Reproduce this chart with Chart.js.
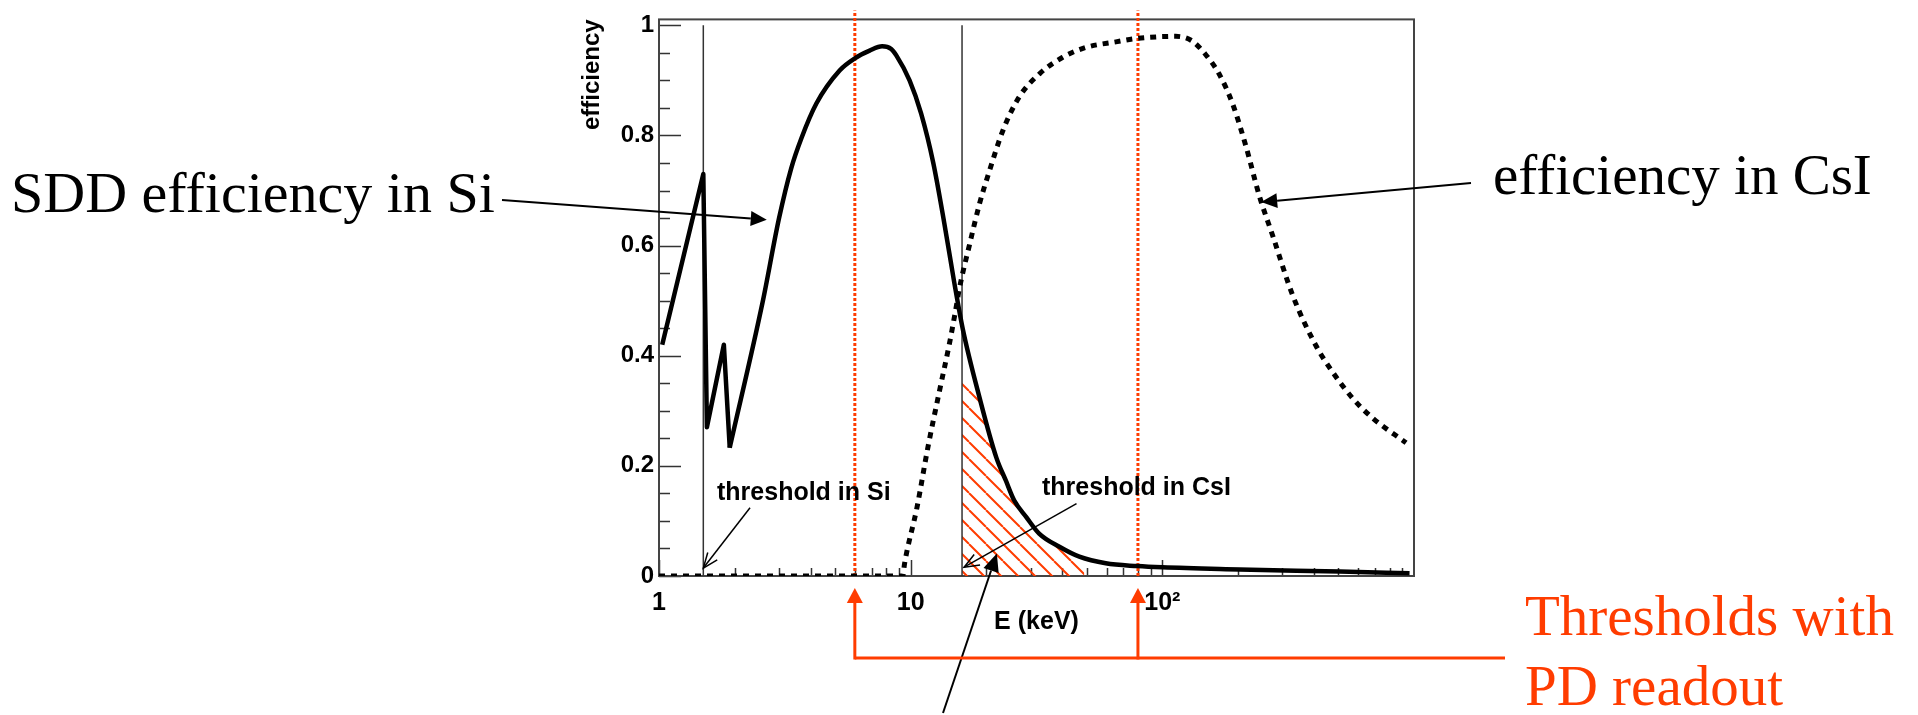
<!DOCTYPE html>
<html>
<head>
<meta charset="utf-8">
<script src="https://cdn.jsdelivr.net/npm/chart.js@4.4.1/dist/chart.umd.min.js"></script>
<style>
  html, body { margin: 0; padding: 0; background: #fff; }
  canvas { display: block; }
</style>
</head>
<body>
<canvas id="chart" width="1918" height="715"></canvas>
<script>
// energies in keV, efficiencies 0..1
const siEnergy = [1.03, 1.5, 1.55, 1.81, 1.91, 2.58, 3.0, 3.35, 3.68, 4.22, 5.22, 6.0, 6.87, 7.7, 8.37, 8.78,
  9.9, 11.0, 12.3, 13.6, 14.9, 16.1, 18.8, 21.9, 23.9, 25.8, 28.8, 32.4, 39, 46.8, 59.6, 79.4, 100, 203, 507, 960];
const siEff = [0.42, 0.73, 0.27, 0.42, 0.233, 0.497, 0.65, 0.74, 0.795, 0.858, 0.918, 0.94, 0.954, 0.962, 0.957, 0.945,
  0.90, 0.84, 0.75, 0.641, 0.533, 0.449, 0.323, 0.215, 0.173, 0.137, 0.107, 0.077, 0.053, 0.035, 0.023, 0.018, 0.0157, 0.012, 0.008, 0.005];
const siEdgeEnd = 4; // points up to here are the sharp absorption-edge part

const csiEnergy = [1, 9.3, 9.46, 10.6, 11.7, 13.0, 14.3, 15.2, 15.6, 17.1, 18.8, 20.6, 23.3, 27.0, 32.5, 40.2, 49.8,
  65.4, 78.5, 113, 131, 148, 168, 190, 215, 243, 275, 330, 407, 474, 570, 684, 930];
const csiEff = [0, 0, 0.023, 0.125, 0.233, 0.335, 0.425, 0.491, 0.521, 0.6, 0.677, 0.737, 0.81, 0.87, 0.912, 0.942, 0.96,
  0.97, 0.976, 0.98, 0.972, 0.948, 0.912, 0.858, 0.78, 0.69, 0.617, 0.509, 0.419, 0.371, 0.323, 0.287, 0.242];

// hatched area under the Si curve above the CsI threshold
const hatchEnergy = [16, 18.2, 18.8, 21.9, 25.8, 31.6, 42.8, 49];
const hatchEff = [0.36, 0.35, 0.323, 0.215, 0.137, 0.077, 0.038, 0.03];

const detThresholds = [1.5, 16];   // threshold in Si, threshold in CsI
const pdThresholds = [6, 80];      // thresholds with PD readout

const xTickValues = [1, 10, 100];
const xTickLabels = ['1', '10', '10²'];
const yTickValues = [0, 0.2, 0.4, 0.6, 0.8, 1];
const yTickLabels = ['0', '0.2', '0.4', '0.6', '0.8', '1'];

const RED = '#ff3c00';
const INK = '#333';

function pts(xs, ys) {
  return xs.map((x, i) => ({ x, y: ys[i] }));
}

function hatchPattern() {
  const s = 17;
  const c = document.createElement('canvas');
  c.width = s; c.height = s;
  const g = c.getContext('2d');
  g.strokeStyle = RED;
  g.lineWidth = 2;
  g.beginPath();
  for (const k of [-s, 0, s]) { g.moveTo(k, 0); g.lineTo(k + s, s); }
  g.stroke();
  return g.createPattern(c, 'repeat');
}

function arrow(ctx, x0, y0, x1, y1, o) {
  const ang = Math.atan2(y1 - y0, x1 - x0);
  const bx = x1 - o.len * Math.cos(ang), by = y1 - o.len * Math.sin(ang);
  const sx = o.half * Math.sin(ang), sy = o.half * Math.cos(ang);
  ctx.save();
  ctx.strokeStyle = o.color; ctx.fillStyle = o.color; ctx.lineWidth = o.width;
  ctx.beginPath();
  ctx.moveTo(x0, y0);
  if (o.filled) ctx.lineTo(bx, by); else ctx.lineTo(x1, y1);
  ctx.stroke();
  ctx.beginPath();
  ctx.moveTo(bx + sx, by - sy);
  ctx.lineTo(x1, y1);
  ctx.lineTo(bx - sx, by + sy);
  if (o.filled) { ctx.closePath(); ctx.fill(); } else ctx.stroke();
  ctx.restore();
}

// ROOT-style frame with ticks pointing inwards
const framePlugin = {
  id: 'frame',
  beforeDatasetsDraw(chart) {
    const { ctx, chartArea: a, scales: { x, y } } = chart;
    ctx.save();
    ctx.strokeStyle = INK;
    ctx.lineWidth = 1.5;
    ctx.beginPath();
    for (let i = 0; i <= 20; i++) {
      const py = Math.round(y.getPixelForValue(i * 0.05)) + 0.5;
      const len = i % 4 === 0 ? 22 : 11;
      ctx.moveTo(a.left, py); ctx.lineTo(a.left + len, py);
    }
    for (let d = 1; d < 1000; d *= 10) {
      for (let m = 1; m <= 9; m++) {
        const v = m * d;
        if (v >= 1000) continue;
        const px = Math.round(x.getPixelForValue(v)) + 0.5;
        const len = m === 1 ? 16 : 8;
        ctx.moveTo(px, a.bottom); ctx.lineTo(px, a.bottom - len);
      }
    }
    ctx.stroke();
    ctx.strokeStyle = '#444';
    ctx.lineWidth = 2;
    ctx.strokeRect(a.left, a.top, a.right - a.left, a.bottom - a.top);
    ctx.restore();
  }
};

const notesPlugin = {
  id: 'notes',
  afterDraw(chart) {
    const { ctx, scales: { x, y } } = chart;
    const px = v => x.getPixelForValue(v);
    const py = v => y.getPixelForValue(v);
    ctx.save();
    ctx.textBaseline = 'alphabetic';
    ctx.textAlign = 'left';

    ctx.fillStyle = '#000';
    ctx.font = '58px "Liberation Serif", "Times New Roman", serif';
    ctx.fillText('SDD efficiency in Si', 11, 212);
    ctx.font = '57px "Liberation Serif", "Times New Roman", serif';
    ctx.fillText('efficiency in CsI', 1493, 194);

    ctx.font = 'bold 25px "Liberation Sans", Arial, sans-serif';
    ctx.fillText('threshold in Si', 717, 500);
    ctx.fillText('threshold in CsI', 1042, 495);

    ctx.fillStyle = RED;
    ctx.font = '57px "Liberation Serif", "Times New Roman", serif';
    ctx.fillText('Thresholds with', 1525, 635);
    ctx.fillText('PD readout', 1525, 705);

    const solid = { color: '#000', width: 2, len: 16, half: 7.5, filled: true };
    arrow(ctx, 502, 200, px(2.68), py(0.647), solid);
    arrow(ctx, 1471, 183, px(247), py(0.679), solid);
    arrow(ctx, 943, 713, px(22.0), py(0.041), { color: '#000', width: 2, len: 18, half: 8, filled: true });

    const open = { color: '#000', width: 1.5, len: 15, half: 6, filled: false };
    arrow(ctx, px(2.3), py(0.124), px(detThresholds[0]), py(0.0144), open);
    arrow(ctx, px(45.6), py(0.1315), px(16.3), py(0.016), open);

    // PD readout bracket
    const yb = 658;
    ctx.strokeStyle = RED;
    ctx.lineWidth = 3;
    ctx.beginPath();
    ctx.moveTo(px(pdThresholds[0]), yb);
    ctx.lineTo(1505, yb);
    ctx.stroke();
    const red = { color: RED, width: 3, len: 15, half: 8, filled: true };
    pdThresholds.forEach(t => arrow(ctx, px(t), yb + 1.5, px(t), 588, red));
    ctx.restore();
  }
};

const lineSets = [
  ...detThresholds.map(t => ({
    data: [{ x: t, y: 0 }, { x: t, y: 1 }],
    borderColor: INK, borderWidth: 1.5
  })),
  ...pdThresholds.map(t => ({
    data: [{ x: t, y: 0 }, { x: t, y: 1.027 }],
    borderColor: RED, borderWidth: 3, borderDash: [3, 2], clip: false
  }))
];

new Chart(document.getElementById('chart'), {
  type: 'line',
  data: {
    datasets: [
      {
        label: 'SDD efficiency in Si (edge)',
        data: pts(siEnergy.slice(0, siEdgeEnd + 1), siEff.slice(0, siEdgeEnd + 1)),
        borderColor: '#000', borderWidth: 4.5, tension: 0,
        borderJoinStyle: 'round'
      },
      {
        label: 'SDD efficiency in Si',
        data: pts(siEnergy.slice(siEdgeEnd), siEff.slice(siEdgeEnd)),
        borderColor: '#000', borderWidth: 4.5,
        cubicInterpolationMode: 'monotone'
      },
      {
        label: 'efficiency in CsI',
        data: pts(csiEnergy, csiEff),
        borderColor: '#000', borderWidth: 5, borderDash: [6, 6],
        cubicInterpolationMode: 'monotone'
      },
      ...lineSets,
      {
        label: 'hatch',
        data: pts(hatchEnergy, hatchEff),
        borderWidth: 0, borderColor: 'rgba(0,0,0,0)',
        backgroundColor: hatchPattern(), fill: 'origin'
      }
    ]
  },
  options: {
    responsive: false,
    animation: false,
    devicePixelRatio: 1,
    layout: { padding: { left: 575, right: 504, top: 15, bottom: 75 } },
    elements: { point: { radius: 0, hoverRadius: 0 } },
    plugins: { legend: { display: false }, tooltip: { enabled: false } },
    scales: {
      x: {
        type: 'logarithmic', min: 1, max: 1000,
        afterFit: s => { s.height = 64; },
        afterBuildTicks: s => { s.ticks = xTickValues.map(v => ({ value: v })); },
        grid: { display: false, drawTicks: false },
        border: { display: false },
        ticks: {
          autoSkip: false, maxRotation: 0, padding: 12, color: '#000',
          font: { family: 'Liberation Sans', size: 25, weight: 'bold' },
          callback: (v, i) => xTickLabels[i]
        },
        title: {
          display: true, text: 'E (keV)', color: '#000', align: 'center',
          padding: { top: 0, bottom: 3 },
          font: { family: 'Liberation Sans', size: 25, weight: 'bold' }
        }
      },
      y: {
        min: 0, max: 1.0108,
        afterFit: s => { s.width = 84; },
        afterBuildTicks: s => { s.ticks = yTickValues.map(v => ({ value: v })); },
        grid: { display: false, drawTicks: false },
        border: { display: false },
        ticks: {
          padding: 5, color: '#000',
          font: { family: 'Liberation Sans', size: 24, weight: 'bold' },
          callback: (v, i) => yTickLabels[i]
        },
        title: {
          display: true, text: 'efficiency', color: '#000', align: 'end',
          padding: { top: 3, bottom: 0 },
          font: { family: 'Liberation Sans', size: 24, weight: 'bold' }
        }
      }
    }
  },
  plugins: [framePlugin, notesPlugin]
});
</script>
</body>
</html>
